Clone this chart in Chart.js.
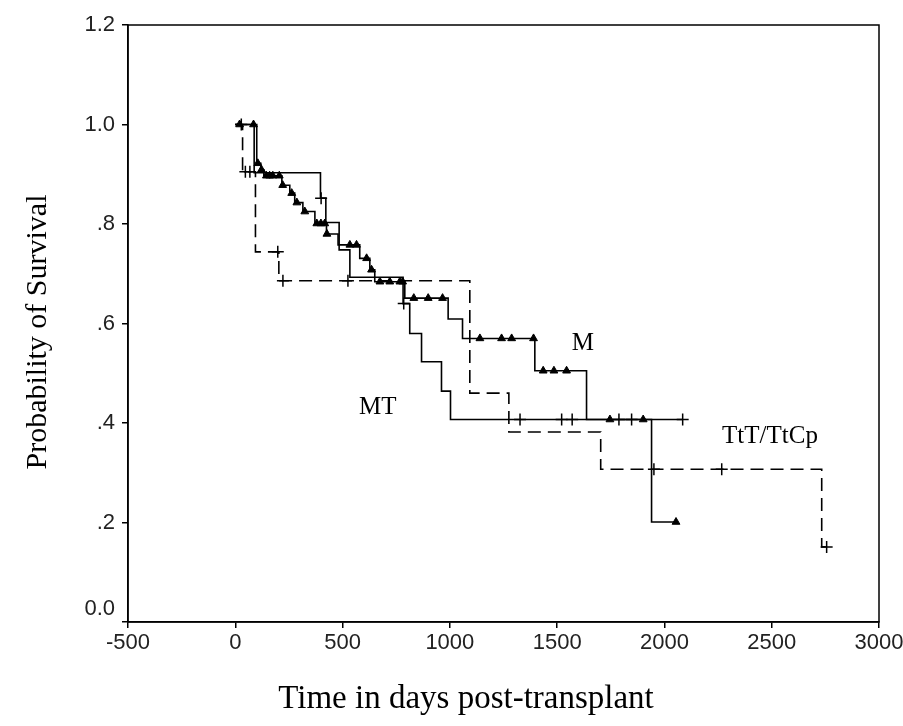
<!DOCTYPE html>
<html lang="en">
<head>
<meta charset="UTF-8">
<title>Survival</title>
<script src="https://cdn.jsdelivr.net/npm/chart.js@4.4.0/dist/chart.umd.min.js"></script>
<style>
  body { margin: 0; background: #fff; }
  .chart-container { position: relative; width: 903px; height: 726px; }
</style>
</head>
<body>
<div class="chart-container">
  <canvas id="myChart"></canvas>
</div>
<script>
// Kaplan-Meier steps: time (days) and survival after the event
const mTimes = [0, 100, 119, 133, 217, 254, 277, 315, 371, 425, 479, 580, 627, 650, 790, 992, 1059, 1396, 1637, 1940, 2054];
const mSurv  = [1.0, 0.922, 0.909, 0.897, 0.878, 0.862, 0.843, 0.825, 0.801, 0.780, 0.758, 0.731, 0.708, 0.684, 0.651, 0.609, 0.570, 0.505, 0.407, 0.201, 0.201];
const mCensor = [20, 85, 105, 122, 145, 160, 175, 205, 221, 263, 287, 324, 380, 399, 417, 427, 534, 565, 612, 635, 674, 720, 767, 780,
                 832, 899, 966, 1140, 1241, 1288, 1390, 1435, 1485, 1544, 1746, 1901, 2054];

const mtTimes = [0, 88, 397, 422, 484, 534, 782, 813, 868, 961, 1003, 2085];
const mtSurv  = [1.0, 0.903, 0.852, 0.803, 0.748, 0.693, 0.640, 0.580, 0.523, 0.464, 0.407, 0.407];
const mtCensor = [28, 400, 785, 1327, 1521, 1570, 1788, 1847, 2085];

const tTimes = [0, 34, 94, 203, 1093, 1275, 1703, 2733, 2756];
const tSurv  = [1.0, 0.905, 0.744, 0.686, 0.460, 0.382, 0.307, 0.151, 0.151];
const tCensor = [47, 68, 198, 222, 525, 1951, 2267, 2756];

const yTickLabels = ['0.0', '.2', '.4', '.6', '.8', '1.0', '1.2'];

const curveLabels = [
  { text: 'M', x: 1620, y: 0.559 },
  { text: 'MT', x: 664, y: 0.432 },
  { text: 'TtT/TtCp', x: 2492, y: 0.372 }
];

function steps(times, surv) {
  return times.map((t, i) => ({ x: t, y: surv[i] }));
}
// survival value of a step curve at time t (for censor marks)
function censorPoints(times, surv, cens) {
  return cens.map(t => {
    let v = surv[0];
    for (let i = 0; i < times.length; i++) if (times[i] <= t) v = surv[i];
    return { x: t, y: v };
  });
}

const boxPlugin = {
  id: 'box',
  afterDraw(chart) {
    const { ctx, chartArea: a, scales } = chart;
    ctx.save();
    ctx.strokeStyle = '#000';
    ctx.lineWidth = 1.5;
    ctx.strokeRect(a.left, a.top, a.right - a.left, a.bottom - a.top);
    ctx.fillStyle = '#000';
    ctx.font = '25px "Liberation Serif"';
    ctx.textAlign = 'center';
    ctx.textBaseline = 'middle';
    curveLabels.forEach(l => {
      ctx.fillText(l.text, scales.x.getPixelForValue(l.x), scales.y.getPixelForValue(l.y));
    });
    ctx.font = '33px "Liberation Serif"';
    ctx.fillText('Time in days post-transplant', 466, 699);
    ctx.font = '30px "Liberation Serif"';
    ctx.translate(38, 332);
    ctx.rotate(-Math.PI / 2);
    ctx.fillText('Probability of Survival', 0, 0);
    ctx.restore();
  }
};

const lineStyle = { borderColor: '#000', borderWidth: 1.6, pointRadius: 0, stepped: 'before', fill: false, showLine: true };

const config = {
  type: 'scatter',
  data: {
    datasets: [
      Object.assign({ label: 'M', data: steps(mTimes, mSurv) }, lineStyle),
      Object.assign({ label: 'MT', data: steps(mtTimes, mtSurv) }, lineStyle),
      Object.assign({ label: 'TtT/TtCp', data: steps(tTimes, tSurv), borderDash: [13, 7] }, lineStyle),
      { label: 'M censored', data: censorPoints(mTimes, mSurv, mCensor), pointStyle: 'triangle',
        pointRadius: 4.5, backgroundColor: '#000', borderColor: '#000', borderWidth: 1, showLine: false },
      { label: 'MT censored', data: censorPoints(mtTimes, mtSurv, mtCensor), pointStyle: 'cross',
        pointRadius: 6, borderColor: '#000', borderWidth: 1.5, showLine: false },
      { label: 'TtT censored', data: censorPoints(tTimes, tSurv, tCensor), pointStyle: 'cross',
        pointRadius: 6, borderColor: '#000', borderWidth: 1.5, showLine: false }
    ]
  },
  options: {
    responsive: true,
    maintainAspectRatio: false,
    animation: false,
    layout: { padding: { top: 25, right: 24, left: 0, bottom: 0 } },
    plugins: { legend: { display: false }, tooltip: { enabled: false } },
    scales: {
      x: {
        type: 'linear', min: -500, max: 3000,
        afterFit: s => { s.height = 104; s.paddingRight = 0; s.paddingLeft = 0; },
        ticks: { stepSize: 500, color: '#222', padding: 2, maxRotation: 0,
                 font: { family: '"Liberation Sans", Arial', size: 22 },
                 callback: v => String(v) },
        grid: { drawOnChartArea: false, tickLength: 6, color: '#000', lineWidth: 1.5 },
        border: { color: '#000', width: 1.5 }
      },
      y: {
        min: 0, max: 1.2,
        afterFit: s => { s.width = 128; },
        ticks: { stepSize: 0.2, color: '#222', padding: 7,
                 font: { family: '"Liberation Sans", Arial', size: 22 },
                 callback: (v, i) => i === 0 ? [yTickLabels[i], ''] : yTickLabels[i] },
        grid: { drawOnChartArea: false, tickLength: 6, color: '#000', lineWidth: 1.5 },
        border: { color: '#000', width: 1.5 }
      }
    }
  },
  plugins: [boxPlugin]
};

window.onload = function () {
  const ctx = document.getElementById('myChart').getContext('2d');
  window.myChart = new Chart(ctx, config);
};
</script>
</body>
</html>
